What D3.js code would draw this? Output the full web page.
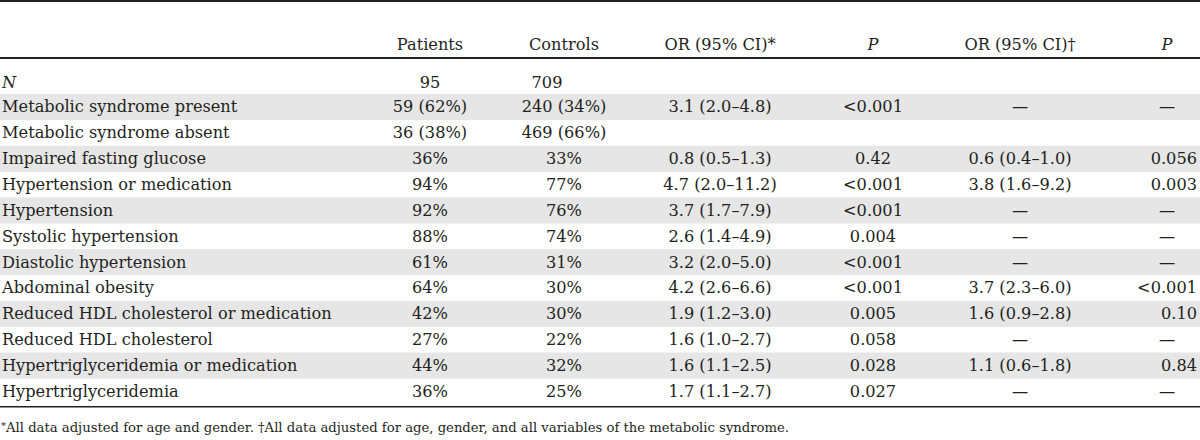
<!DOCTYPE html>
<html>
<head>
<meta charset="utf-8">
<script src="https://cdn.jsdelivr.net/npm/d3@7"></script>
<style>
html,body{margin:0;padding:0;background:#fff;}
svg{display:block;}
text{font-family:"DejaVu Serif",serif;fill:#231f20;}
</style>
</head>
<body>
<svg id="chart" width="1200" height="440"></svg>
<script>
// ---- data ----
const headers = ["Patients", "Controls", "OR (95% CI)*", "P", "OR (95% CI)†", "P"];
const labels = ["N", "Metabolic syndrome present", "Metabolic syndrome absent", "Impaired fasting glucose",
  "Hypertension or medication", "Hypertension", "Systolic hypertension", "Diastolic hypertension",
  "Abdominal obesity", "Reduced HDL cholesterol or medication", "Reduced HDL cholesterol",
  "Hypertriglyceridemia or medication", "Hypertriglyceridemia"];
const patients = ["95", "59 (62%)", "36 (38%)", "36%", "94%", "92%", "88%", "61%", "64%", "42%", "27%", "44%", "36%"];
const controls = ["709", "240 (34%)", "469 (66%)", "33%", "77%", "76%", "74%", "31%", "30%", "30%", "22%", "32%", "25%"];
const orAdj1 = ["", "3.1 (2.0–4.8)", "", "0.8 (0.5–1.3)", "4.7 (2.0–11.2)", "3.7 (1.7–7.9)", "2.6 (1.4–4.9)",
  "3.2 (2.0–5.0)", "4.2 (2.6–6.6)", "1.9 (1.2–3.0)", "1.6 (1.0–2.7)", "1.6 (1.1–2.5)", "1.7 (1.1–2.7)"];
const pAdj1 = ["", "<0.001", "", "0.42", "<0.001", "<0.001", "0.004", "<0.001", "<0.001", "0.005", "0.058", "0.028", "0.027"];
const orAdj2 = ["", "—", "", "0.6 (0.4–1.0)", "3.8 (1.6–9.2)", "—", "—", "—", "3.7 (2.3–6.0)", "1.6 (0.9–2.8)", "—", "1.1 (0.6–1.8)", "—"];
const pAdj2 = ["", "—", "", "0.056", "0.003", "—", "—", "—", "<0.001", "0.10", "—", "0.84", "—"];
const footnote = "All data adjusted for age and gender. †All data adjusted for age, gender, and all variables of the metabolic syndrome.";

// ---- layout ----
const W = 1200;
const svg = d3.select("#chart");
const columns = [patients, controls, orAdj1, pAdj1, orAdj2, pAdj2];
const colX = d3.scaleOrdinal().domain(d3.range(6)).range([430, 564, 720, 873, 1020, 1167]);
const rowIdx = d3.range(labels.length);
const y = d3.scaleBand().domain(rowIdx.slice(1)).range([94, 94 + 25.85 * (labels.length - 1)]).paddingInner(0);
const rowCenter = i => i === 0 ? 82 : y(i) + y.bandwidth() / 2;
const FS = 16.2;

// shading
svg.append("g").selectAll("rect")
  .data(rowIdx.filter(i => i > 0 && i % 2 === 1))
  .join("rect")
  .attr("x", 0).attr("width", W)
  .attr("y", i => y(i)).attr("height", y.bandwidth() + 0.3)
  .attr("fill", "#e6e6e6");

// rules
const rules = [{y: 1, w: 2}, {y: 58, w: 2}, {y: y(labels.length - 1) + y.bandwidth() + 2.5, w: 1.4}];
svg.append("g").selectAll("line").data(rules).join("line")
  .attr("x1", 0).attr("x2", W).attr("y1", d => d.y).attr("y2", d => d.y)
  .attr("stroke", "#231f20").attr("stroke-width", d => d.w);

// headers
svg.append("g").selectAll("text").data(headers).join("text")
  .attr("x", (d, i) => colX(i)).attr("y", 50)
  .attr("text-anchor", "middle").attr("font-size", FS)
  .attr("font-style", d => d === "P" ? "italic" : null)
  .text(d => d);

// row labels
svg.append("g").selectAll("text").data(labels).join("text")
  .attr("x", 2).attr("y", (d, i) => rowCenter(i) + 5.5)
  .attr("font-size", FS)
  .attr("font-style", (d, i) => i === 0 ? "italic" : null)
  .text(d => d);

// cells
columns.forEach((col, c) => {
  svg.append("g").selectAll("text").data(col).join("text")
    .attr("x", (d, i) => {
      if (c === 5 && d !== "—") return 1197;
      if (c === 1 && i === 0) return colX(c) - 17;
      return colX(c);
    })
    .attr("y", (d, i) => rowCenter(i) + 5.5)
    .attr("text-anchor", (d, i) => (c === 5 && d !== "—") ? "end" : "middle")
    .attr("font-size", FS)
    .text(d => d);
});

// footnote
const fn = svg.append("text").attr("x", 1).attr("y", 432).attr("font-size", 13.2);
fn.append("tspan").attr("font-size", 10).attr("dy", -3).text("*");
fn.append("tspan").attr("dy", 3).text(footnote);
</script>
</body>
</html>
